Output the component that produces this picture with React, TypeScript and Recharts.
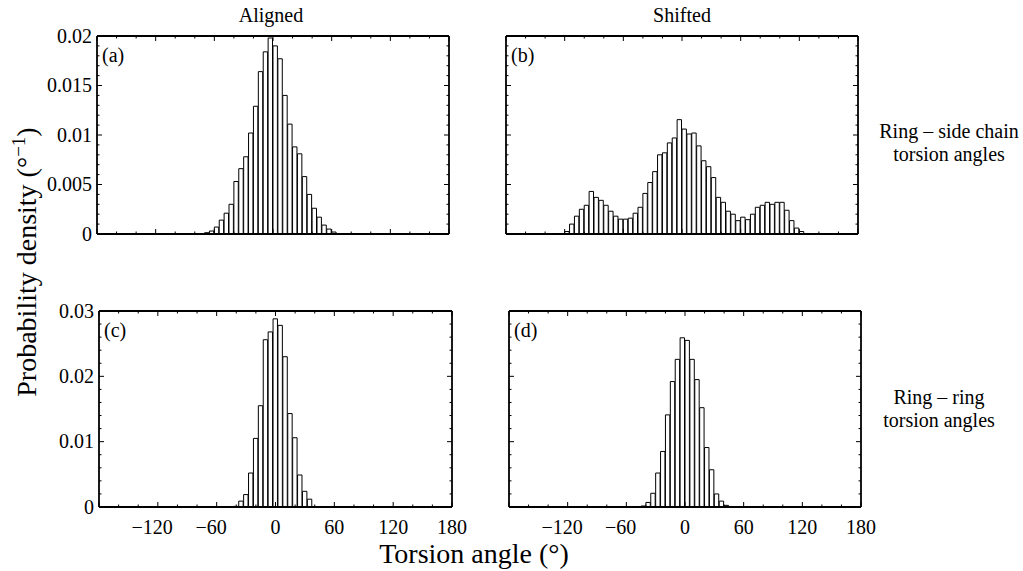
import React from 'react'
import { Bar, BarChart, XAxis, YAxis } from 'recharts'

// bin centres (deg) and probability densities (1/deg)
const alignedSideAngle = [
  -72.5, -67.5, -62.5, -57.5, -52.5, -47.5, -42.5, -37.5, -32.5, -27.5, -22.5, -17.5, -12.5, -7.5, -2.5,
  2.5, 7.5, 12.5, 17.5, 22.5, 27.5, 32.5, 37.5, 42.5, 47.5, 52.5, 57.5, 62.5, 67.5,
]
const alignedSideDensity = [
  0.00005, 0.00013, 0.0003, 0.0007, 0.0014, 0.0021, 0.003, 0.0053, 0.0066, 0.0078, 0.0102, 0.0129, 0.0164, 0.0184, 0.0198,
  0.019, 0.0177, 0.014, 0.0111, 0.0088, 0.0081, 0.0058, 0.004, 0.0026, 0.0017, 0.0009, 0.0005, 0.0002, 0.00005,
]

const shiftedSideAngle = [
  -117.5, -112.5, -107.5, -102.5, -97.5, -92.5, -87.5, -82.5, -77.5, -72.5, -67.5, -62.5, -57.5, -52.5, -47.5, -42.5,
  -37.5, -32.5, -27.5, -22.5, -17.5, -12.5, -7.5, -2.5, 2.5, 7.5, 12.5, 17.5, 22.5, 27.5, 32.5, 37.5, 42.5, 47.5,
  52.5, 57.5, 62.5, 67.5, 72.5, 77.5, 82.5, 87.5, 92.5, 97.5, 102.5, 107.5, 112.5, 117.5, 122.5,
]
const shiftedSideDensity = [
  0.00025, 0.001, 0.0018, 0.0025, 0.0029, 0.0043, 0.0037, 0.0034, 0.0029, 0.0023, 0.0018, 0.0015, 0.0015, 0.0016, 0.0021,
  0.0027, 0.0041, 0.0052, 0.0063, 0.008, 0.0082, 0.0092, 0.0097, 0.01155, 0.0106, 0.0101, 0.0102, 0.0089, 0.0074,
  0.0068, 0.0057, 0.0037, 0.0032, 0.0023, 0.002, 0.00135, 0.0017, 0.00145, 0.002, 0.0027, 0.0029, 0.0032, 0.003,
  0.0032, 0.0032, 0.0024, 0.00135, 0.0006, 0.00025,
]

const alignedRingAngle = [-40, -35, -30, -25, -20, -15, -10, -5, 0, 5, 10, 15, 20, 25, 30, 35]
const alignedRingDensity = [
  0.0001, 0.0009, 0.0019, 0.0052, 0.0105, 0.0155, 0.0256, 0.0268, 0.0288, 0.0278, 0.023, 0.0143, 0.0106, 0.0049, 0.0024,
  0.0012,
]

const shiftedRingAngle = [
  -42.5, -37.5, -32.5, -27.5, -22.5, -17.5, -12.5, -7.5, -2.5, 2.5, 7.5, 12.5, 17.5, 22.5, 27.5, 32.5, 37.5, 42.5,
]
const shiftedRingDensity = [
  0.00015, 0.0007, 0.0021, 0.0052, 0.0085, 0.0141, 0.0192, 0.0226, 0.0259, 0.0255, 0.0226, 0.0195, 0.0152, 0.0091, 0.0057,
  0.002, 0.0009, 0.00025,
]

// ticks
const xMajor = [-180, -120, -60, 0, 60, 120, 180]
const xMinor = [-160, -140, -100, -80, -40, -20, 20, 40, 80, 100, 140, 160]
const xLabels = [-120, -60, 0, 60, 120, 180]
const sideMajor = [0, 0.005, 0.01, 0.015, 0.02]
const sideMinor = [
  0.001, 0.002, 0.003, 0.004, 0.006, 0.007, 0.008, 0.009, 0.011, 0.012, 0.013, 0.014, 0.016, 0.017, 0.018, 0.019,
]
const ringMajor = [0, 0.01, 0.02, 0.03]
const ringMinor = [0.002, 0.004, 0.006, 0.008, 0.012, 0.014, 0.016, 0.018, 0.022, 0.024, 0.026, 0.028]

const FONT = '"Liberation Serif", "Times New Roman", serif'
// outer space round each plot box; axes take 1px of it (recharts skips 0-size axes)
const M = { top: 16, right: 26, bottom: 40, left: 70 }
const frameLine = { stroke: '#000', strokeWidth: 1.8 }

// tick mark drawn inward, with optional label (matlab style box axes)
function FrameTick({ x, y, payload, side, majors, labels }: any) {
  const v = payload.value
  const len = majors.includes(v) ? 5 : 2.5
  const d: Record<string, number[]> = { bottom: [0, -len], top: [0, len], left: [len, 0], right: [-len, 0] }
  const [dx, dy] = d[side]
  let label = null
  if (labels && labels.includes(v)) {
    if (side === 'bottom') {
      label = (
        <text x={x} y={y + 27} dx={v < 0 ? -5.6 : 0} textAnchor="middle" fontFamily={FONT} fontSize={20} fill="#000">
          {v < 0 ? '\u2212' + Math.abs(v) : String(v)}
        </text>
      )
    } else {
      label = (
        <text x={x - 5} y={y} dy="0.34em" textAnchor="end" fontFamily={FONT} fontSize={20} fill="#000">
          {String(v)}
        </text>
      )
    }
  }
  return (
    <g>
      <line x1={x} y1={y} x2={x + dx} y2={y + dy} stroke="#000" strokeWidth={1} />
      {label}
    </g>
  )
}

function Panel({ box, angles, density, yMax, yMajor, yMinor, showX, showY }: any) {
  const data = angles.map((angle: number, i: number) => ({ angle, density: density[i] }))
  const xTicks = [...xMajor, ...xMinor]
  const yTicks = [...yMajor, ...yMinor]
  const common = { allowDataOverflow: true, interval: 0 as const, tickSize: 0, tickMargin: 0, tickLine: false, axisLine: frameLine }
  const margin = { top: M.top - 1, right: M.right - 1, bottom: M.bottom - 1, left: M.left - 1 }
  return (
    <div style={{ position: 'absolute', left: box.x - M.left, top: box.y - M.top }}>
      <BarChart
        width={box.w + M.left + M.right}
        height={box.h + M.top + M.bottom}
        data={data}
        margin={margin}
        barCategoryGap={0}
      >
        <XAxis
          {...common}
          xAxisId="b"
          dataKey="angle"
          type="number"
          domain={[-180, 180]}
          ticks={xTicks}
          height={1}
          tick={(p: any) => <FrameTick {...p} side="bottom" majors={xMajor} labels={showX ? xLabels : null} />}
        />
        <XAxis
          {...common}
          xAxisId="t"
          orientation="top"
          dataKey="angle"
          type="number"
          domain={[-180, 180]}
          ticks={xTicks}
          height={1}
          tick={(p: any) => <FrameTick {...p} side="top" majors={xMajor} />}
        />
        <YAxis
          {...common}
          yAxisId="l"
          type="number"
          domain={[0, yMax]}
          ticks={yTicks}
          width={1}
          tick={(p: any) => <FrameTick {...p} side="left" majors={yMajor} labels={showY ? yMajor : null} />}
        />
        <YAxis
          {...common}
          yAxisId="r"
          orientation="right"
          type="number"
          domain={[0, yMax]}
          ticks={yTicks}
          width={1}
          tick={(p: any) => <FrameTick {...p} side="right" majors={yMajor} />}
        />
        <Bar
          xAxisId="b"
          yAxisId="l"
          dataKey="density"
          fill="#fff"
          stroke="#000"
          strokeWidth={1}
          barSize={box.w / 72}
          isAnimationActive={false}
        />
      </BarChart>
    </div>
  )
}

const txt = { fontFamily: FONT, fill: '#000' }

export default function App() {
  return (
    <div style={{ position: 'absolute', left: 0, top: 0, width: 1023, height: 571, background: '#fff', overflow: 'hidden' }}>
      <Panel
        box={{ x: 97, y: 36, w: 352, h: 198 }}
        angles={alignedSideAngle}
        density={alignedSideDensity}
        yMax={0.02}
        yMajor={sideMajor}
        yMinor={sideMinor}
        showY
      />
      <Panel
        box={{ x: 506, y: 36, w: 352, h: 198 }}
        angles={shiftedSideAngle}
        density={shiftedSideDensity}
        yMax={0.02}
        yMajor={sideMajor}
        yMinor={sideMinor}
      />
      <Panel
        box={{ x: 99, y: 311, w: 353, h: 196 }}
        angles={alignedRingAngle}
        density={alignedRingDensity}
        yMax={0.03}
        yMajor={ringMajor}
        yMinor={ringMinor}
        showX
        showY
      />
      <Panel
        box={{ x: 509, y: 311, w: 352, h: 196 }}
        angles={shiftedRingAngle}
        density={shiftedRingDensity}
        yMax={0.03}
        yMajor={ringMajor}
        yMinor={ringMinor}
        showX
      />
      <svg width={1023} height={571} style={{ position: 'absolute', left: 0, top: 0, pointerEvents: 'none' }}>
        <text {...txt} x={271} y={22} fontSize={20} textAnchor="middle">Aligned</text>
        <text {...txt} x={682} y={22} fontSize={20} textAnchor="middle">Shifted</text>
        <text {...txt} x={102} y={62} fontSize={20}>(a)</text>
        <text {...txt} x={511} y={62} fontSize={20}>(b)</text>
        <text {...txt} x={104} y={337} fontSize={20}>(c)</text>
        <text {...txt} x={514} y={337} fontSize={20}>(d)</text>
        <text {...txt} x={949} y={138} fontSize={20} textAnchor="middle">Ring – side chain</text>
        <text {...txt} x={949} y={161} fontSize={20} textAnchor="middle">torsion angles</text>
        <text {...txt} x={939} y={404} fontSize={20} textAnchor="middle">Ring – ring</text>
        <text {...txt} x={939} y={427} fontSize={20} textAnchor="middle">torsion angles</text>
        <text {...txt} x={474} y={563} fontSize={28} textAnchor="middle">Torsion angle (°)</text>
        <text {...txt} fontSize={28} textAnchor="middle" transform="translate(36 262) rotate(-90)">
          Probability density (°
          <tspan dy={-11} fontSize={19}>−1</tspan>
          <tspan dy={11}>)</tspan>
        </text>
      </svg>
    </div>
  )
}
